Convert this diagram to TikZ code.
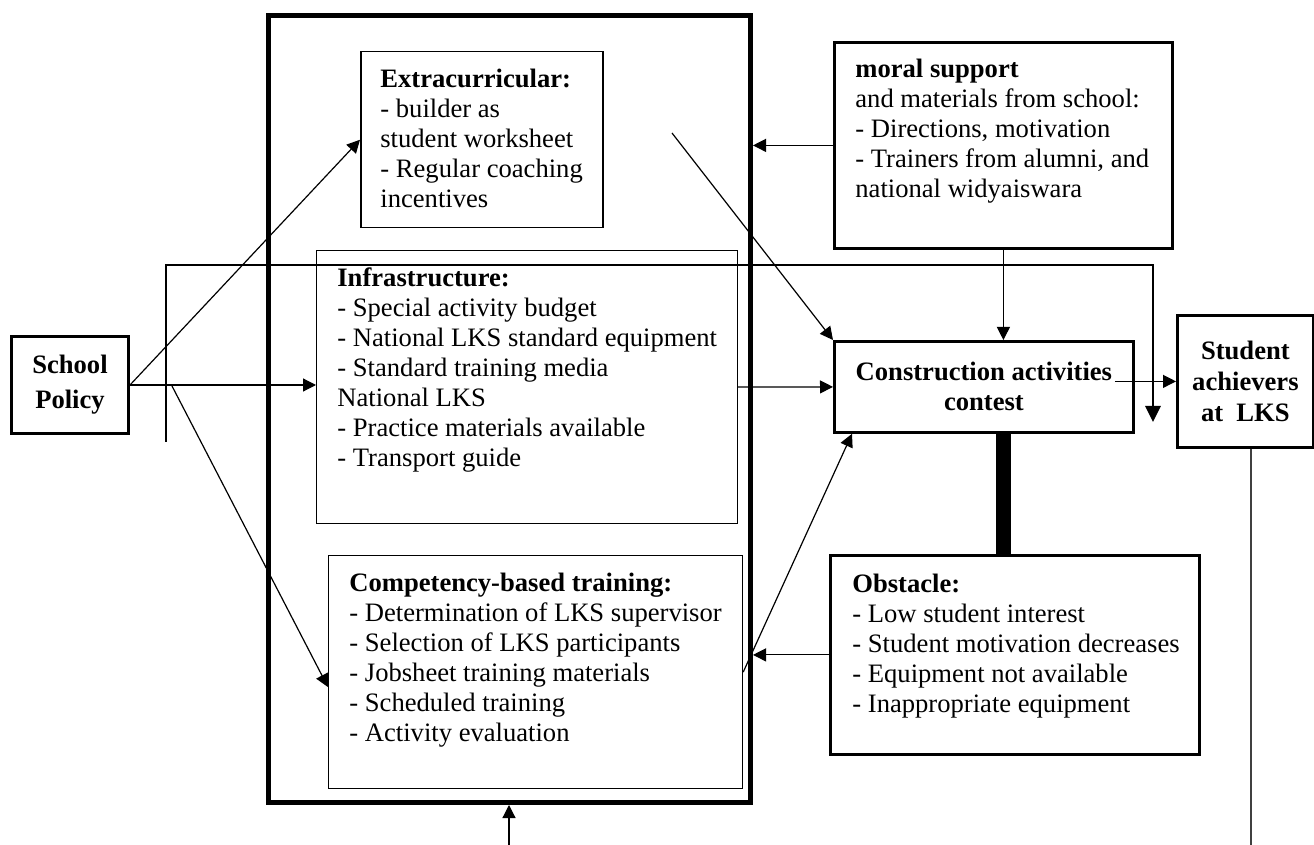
\documentclass[tikz,border=0pt]{standalone}
\usepackage{fontspec}
\setmainfont{Liberation Serif}
\usetikzlibrary{arrows.meta, positioning, calc}

\newcommand{\fs}{\fontsize{13.3pt}{15pt}\selectfont}

\tikzset{
  box/.style={draw, anchor=north west, inner sep=0pt, line width=1.4pt},
  thinbox/.style={draw, anchor=north west, inner sep=0pt, line width=0.6pt},
  txt/.style={anchor=north west, align=left, inner sep=0pt, font=\fs},
  head/.style={align=center, font=\fs\bfseries},
  arr/.style={line width=0.6pt, -{Triangle[length=6.5pt,width=6.5pt]}},
}

\begin{document}
\begin{tikzpicture}[x=0.5pt, y=-0.5pt]
\useasboundingbox (0,0) rectangle (1314,845);

% outer frame
\node[draw, anchor=north west, line width=2.5pt, minimum width=241pt, minimum height=393.5pt] (frame) at (266,13) {};

% boxes inside the frame
\node[thinbox, line width=0.75pt, minimum width=121pt, minimum height=88pt] (extra) at (360,51) {};
\node[thinbox, minimum width=210.5pt, minimum height=136.5pt] (infra) at (316,250) {};
\node[thinbox, minimum width=207pt, minimum height=116.5pt] (comp) at (328,555) {};

\node[txt] (extratxt) at (380,69) {\textbf{Extracurricular:}\\- builder as\\student worksheet\\- Regular coaching\\incentives};
\node[txt] (infratxt) at (337,267) {\textbf{Infrastructure:}\\- Special activity budget\\- National LKS standard equipment\\- Standard training media\\National LKS\\- Practice materials available\\- Transport guide};
\node[txt] (comptxt) at (349,573) {\textbf{Competency-based training:}\\- Determination of LKS supervisor\\- Selection of LKS participants\\- Jobsheet training materials\\- Scheduled training\\- Activity evaluation};

% outside boxes
\node[box, line width=1.5pt, minimum width=58.5pt, minimum height=48.5pt, head, font={\fontsize{13.3pt}{17.5pt}\selectfont\bfseries}] (policy) at (10,335) {School\\Policy};
\node[box, minimum width=169pt, minimum height=103pt] (moral) at (833,41) {};
\node[txt] (moraltxt) at (855,59) {\textbf{moral support}\\and materials from school:\\- Directions, motivation\\- Trainers from alumni, and\\national widyaiswara};
\node[box, minimum width=149.5pt, minimum height=45.5pt, head] (cons) at (833,340) {Construction activities\\contest};
\node[box, minimum width=68pt, minimum height=66pt, head, font={\fontsize{13.3pt}{15.5pt}\selectfont\bfseries}] (student) at (1176,314) {Student\\achievers\\at\ \ LKS};
\node[box, minimum width=184.5pt, minimum height=99.5pt] (obs) at (829,554) {};
\node[txt] (obstxt) at (852,574) {\textbf{Obstacle:}\\- Low student interest\\- Student motivation decreases\\- Equipment not available\\- Inappropriate equipment};

% free ends
\coordinate (split) at (172,386);
\coordinate (fbstart) at (166,442);
\coordinate (fbcorner) at (1153,265);
\coordinate (fbend) at (1153,422);
\coordinate (diag) at (672,133);
\coordinate (outB) at (509,845);
\coordinate (outR) at (1251,845);

% connectors
\draw[arr] (policy.east) -- (policy.east -| infra.west);
\draw[arr] (policy.east) -- (extra.west);
\draw[arr] (split) -- ([yshift=-7.5pt]comp.west);
\draw[line width=1.4pt, -{Triangle[length=8pt,width=7.5pt]}] (fbstart) |- (fbcorner) -- (fbend);
\draw[arr] (infra.east) -- (cons.west);
\draw[arr] (moral.west) -- (moral.west -| frame.east);
\draw[arr] (diag) -- (cons.north west);
\draw[arr] (moral.south) -- (moral.south |- cons.north);
\draw[arr] ($(cons.east |- student.west)+(-20,0)$) -- (student.west);
\draw[line width=7.5pt] (moral.south |- cons.south) -- (moral.south |- obs.north);
\draw[arr] (obs.west) -- (obs.west -| frame.east);
\draw[arr] (comp.east) -- ([xshift=9.5pt]cons.south west);
\draw[line width=0.7pt, black!75] (outR |- student.south) -- (outR);
\draw[arr] (outB) -- (outB |- frame.south);
\end{tikzpicture}
\end{document}
